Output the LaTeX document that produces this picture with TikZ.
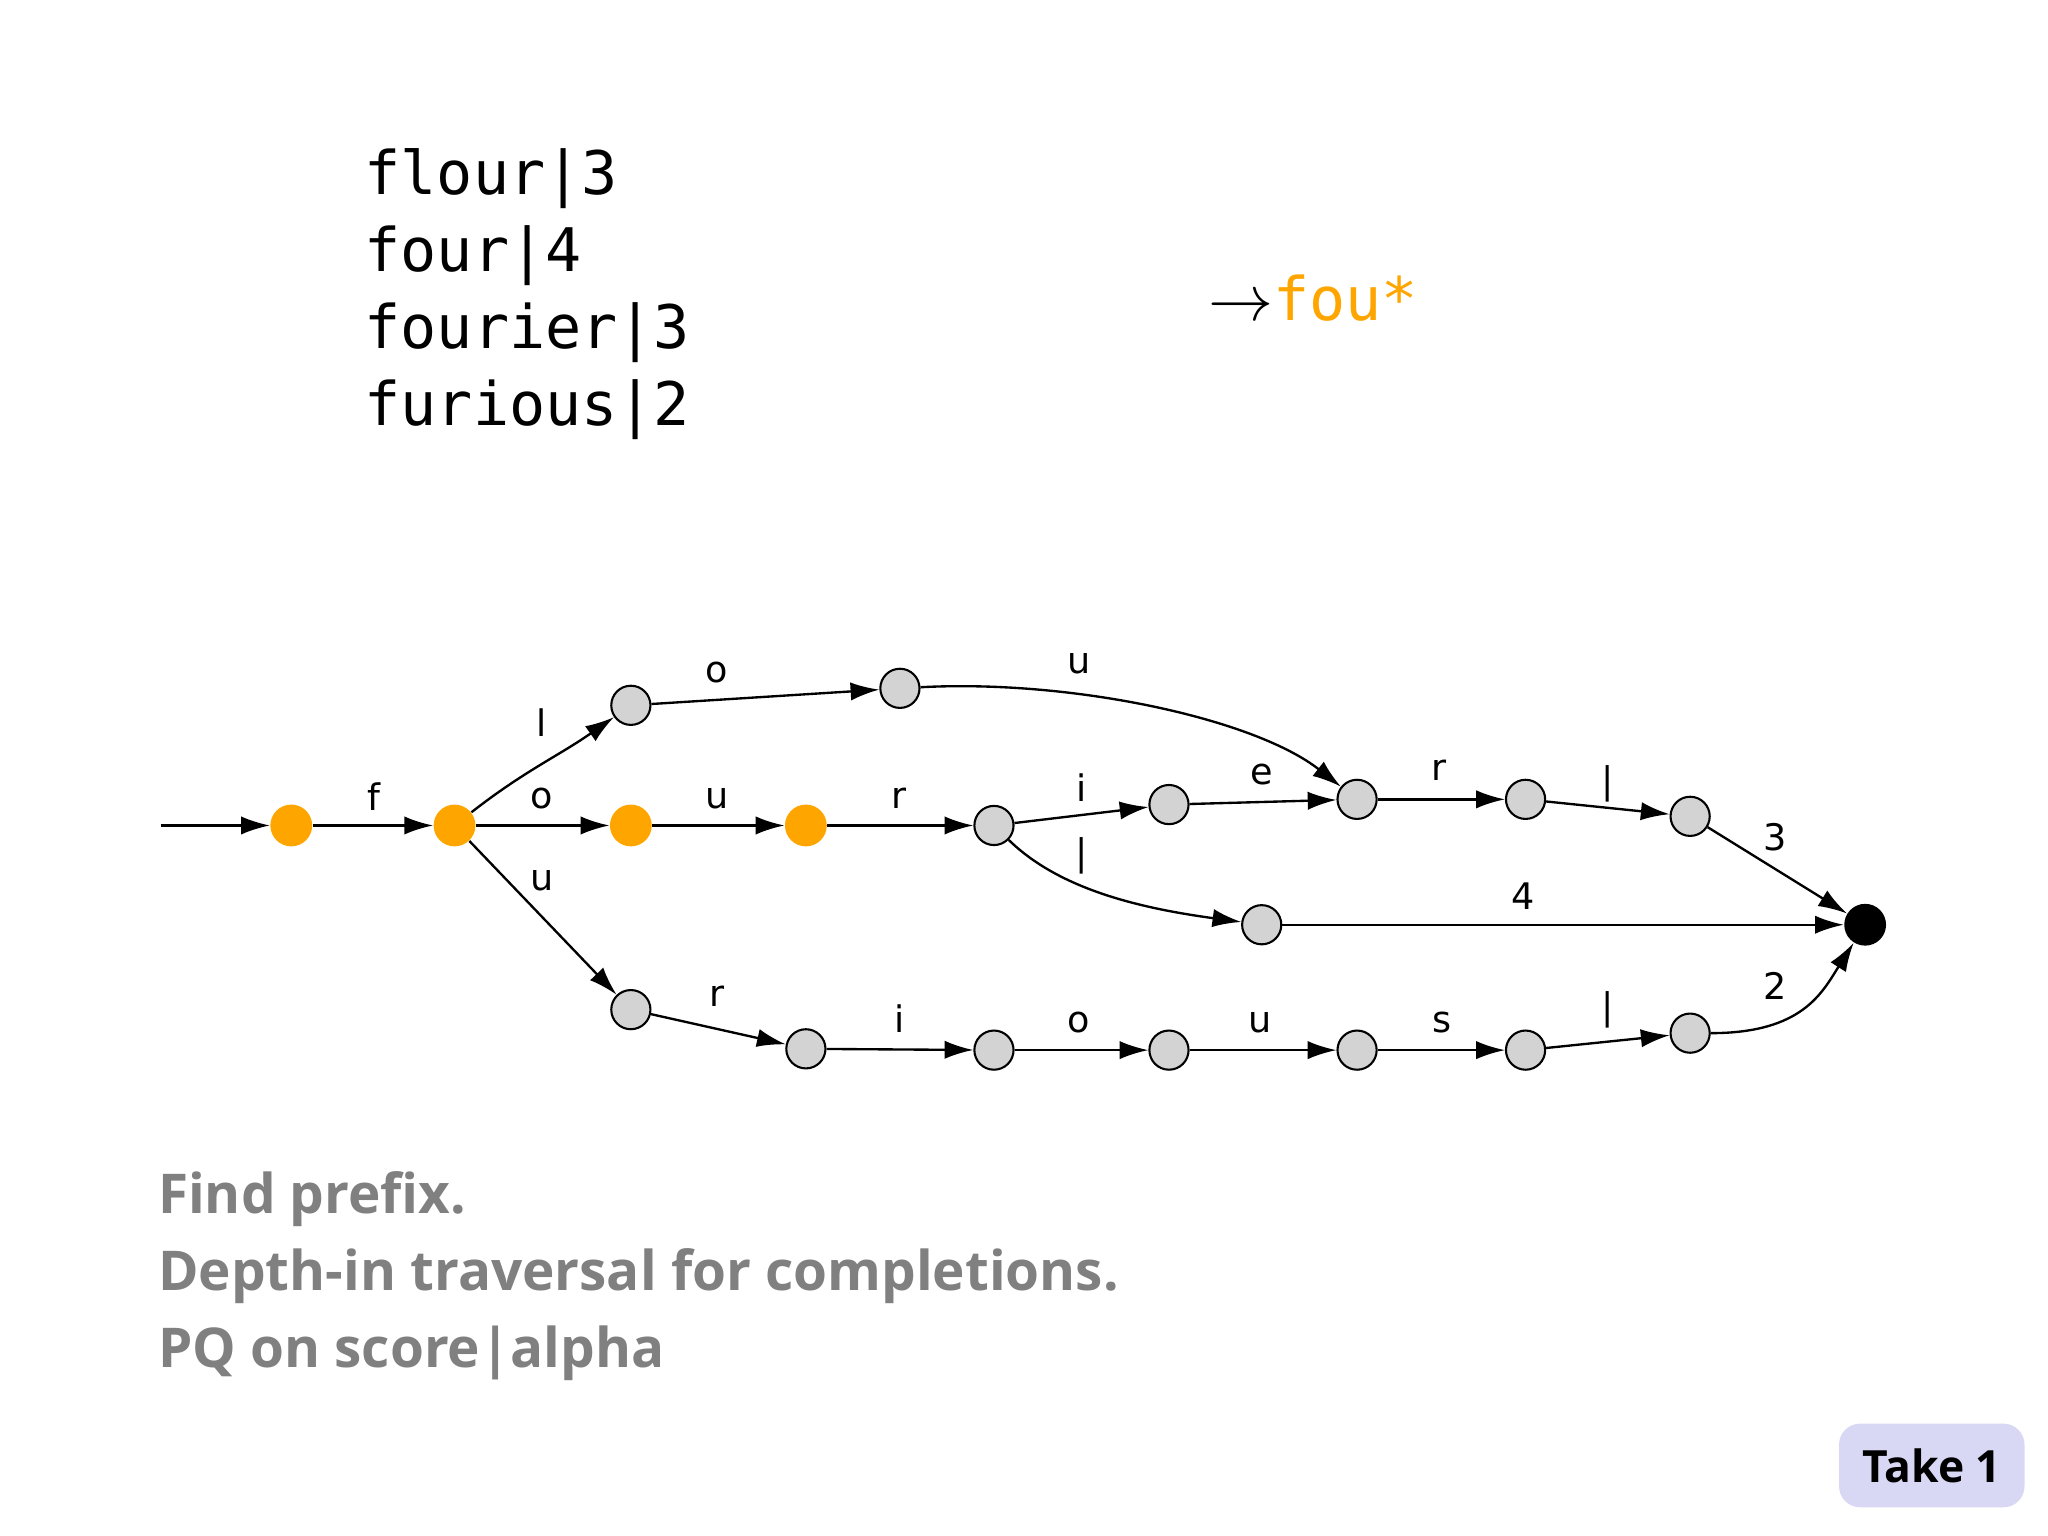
\documentclass[tikz,border=0pt]{standalone}
\usepackage{fontspec}
\setmainfont{DejaVu Sans}
\newfontfamily\monof{DejaVu Sans Mono}
\newfontfamily\boldf{Open Sans}
\usetikzlibrary{arrows.meta}
\definecolor{org}{HTML}{FFA500}
\definecolor{gr}{HTML}{D3D3D3}
\definecolor{txtg}{HTML}{808080}
\definecolor{badge}{HTML}{D8D8F4}
\begin{document}
\begin{tikzpicture}[x=0.5pt,y=-0.5pt,
  st/.style={circle,draw,fill=gr,minimum size=15pt,inner sep=0pt,line width=0.8pt},
  ac/.style={circle,fill=org,minimum size=16pt,inner sep=0pt},
  fin/.style={circle,fill=black,minimum size=16pt,inner sep=0pt},
  ed/.style={-{Latex[length=11pt,width=7pt]},line width=0.9pt},
  lb/.style={font=\fontsize{14}{16}\selectfont}]
\useasboundingbox (0,0) rectangle (1568,1176);
\coordinate (s) at (123,632);
\node[ac] (n0) at (223,632) {};
\node[ac] (n1) at (348,632) {};
\node[st] (a) at (483,540) {};
\node[st] (b) at (689,527) {};
\node[ac] (c) at (483,632) {};
\node[ac] (d) at (617,632) {};
\node[st] (e) at (761,632) {};
\node[st] (f) at (895,616) {};
\node[st] (g) at (1039,612) {};
\node[st] (h) at (1168,612) {};
\node[st] (i) at (1294,625) {};
\node[fin] (z) at (1428,708) {};
\node[st] (j) at (966,708) {};
\node[st] (k) at (483,773) {};
\node[st] (l) at (617,803) {};
\node[st] (m) at (761,804) {};
\node[st] (n) at (895,804) {};
\node[st] (o) at (1039,804) {};
\node[st] (p) at (1168,804) {};
\node[st] (q) at (1294,791) {};
\draw[ed] (s) -- (n0);
\draw[ed] (n0) -- (n1);
\draw[ed] (n1) to[out=38,in=-145] (a);
\draw[ed] (a) -- (b);
\draw[ed] (b) .. controls (820,520) and (960,550) .. (g);
\draw[ed] (n1) -- (c);
\draw[ed] (c) -- (d);
\draw[ed] (d) -- (e);
\draw[ed] (e) -- (f);
\draw[ed] (f) -- (g);
\draw[ed] (g) -- (h);
\draw[ed] (h) -- (i);
\draw[ed] (i) -- (z);
\draw[ed] (e) .. controls (810,680) and (870,695) .. (j);
\draw[ed] (j) -- (z);
\draw[ed] (n1) -- (k);
\draw[ed] (k) -- (l);
\draw[ed] (l) -- (m);
\draw[ed] (m) -- (n);
\draw[ed] (n) -- (o);
\draw[ed] (o) -- (p);
\draw[ed] (p) -- (q);
\draw[ed] (q) .. controls (1380,791) and (1395,760) .. (z);
\node[lb] at (286,610) {f};
\node[lb] at (415,553) {l};
\node[lb] at (549,515) {o};
\node[lb] at (826,508) {u};
\node[lb] at (415,611) {o};
\node[lb] at (549,611) {u};
\node[lb] at (688,611) {r};
\node[lb] at (828,603) {i};
\node[lb] at (966,593) {e};
\node[lb] at (1102,590) {r};
\node[lb] at (1231,600) {|};
\node[lb] at (1359,641) {3};
\node[lb] at (828,655) {|};
\node[lb] at (1166,686) {4};
\node[lb] at (415,674) {u};
\node[lb] at (549,763) {r};
\node[lb] at (689,780) {i};
\node[lb] at (826,783) {o};
\node[lb] at (965,783) {u};
\node[lb] at (1104,783) {s};
\node[lb] at (1231,773) {|};
\node[lb] at (1359,755) {2};
\node[anchor=west,align=left,font=\monof\fontsize{23}{29.5}\selectfont] (w) at (272,225) {flour|3\\four|4\\fourier|3\\furious|2};
\node[anchor=west,font=\fontsize{23}{28}\selectfont] (pf) at (918,228) {\monof$\rightarrow$\textcolor{org}{fou*}};
\node[anchor=west,align=left,text=txtg,font=\boldf\bfseries\fontsize{21}{29.5}\selectfont] (t) at (114,977) {Find prefix.\\Depth-in traversal for completions.\\PQ on score|alpha};
\node[fill=badge,rounded corners=8pt,minimum width=71pt,minimum height=32pt,font=\boldf\bfseries\fontsize{17}{20}\selectfont] (bd) at (1479,1122) {Take 1};
\end{tikzpicture}
\end{document}
